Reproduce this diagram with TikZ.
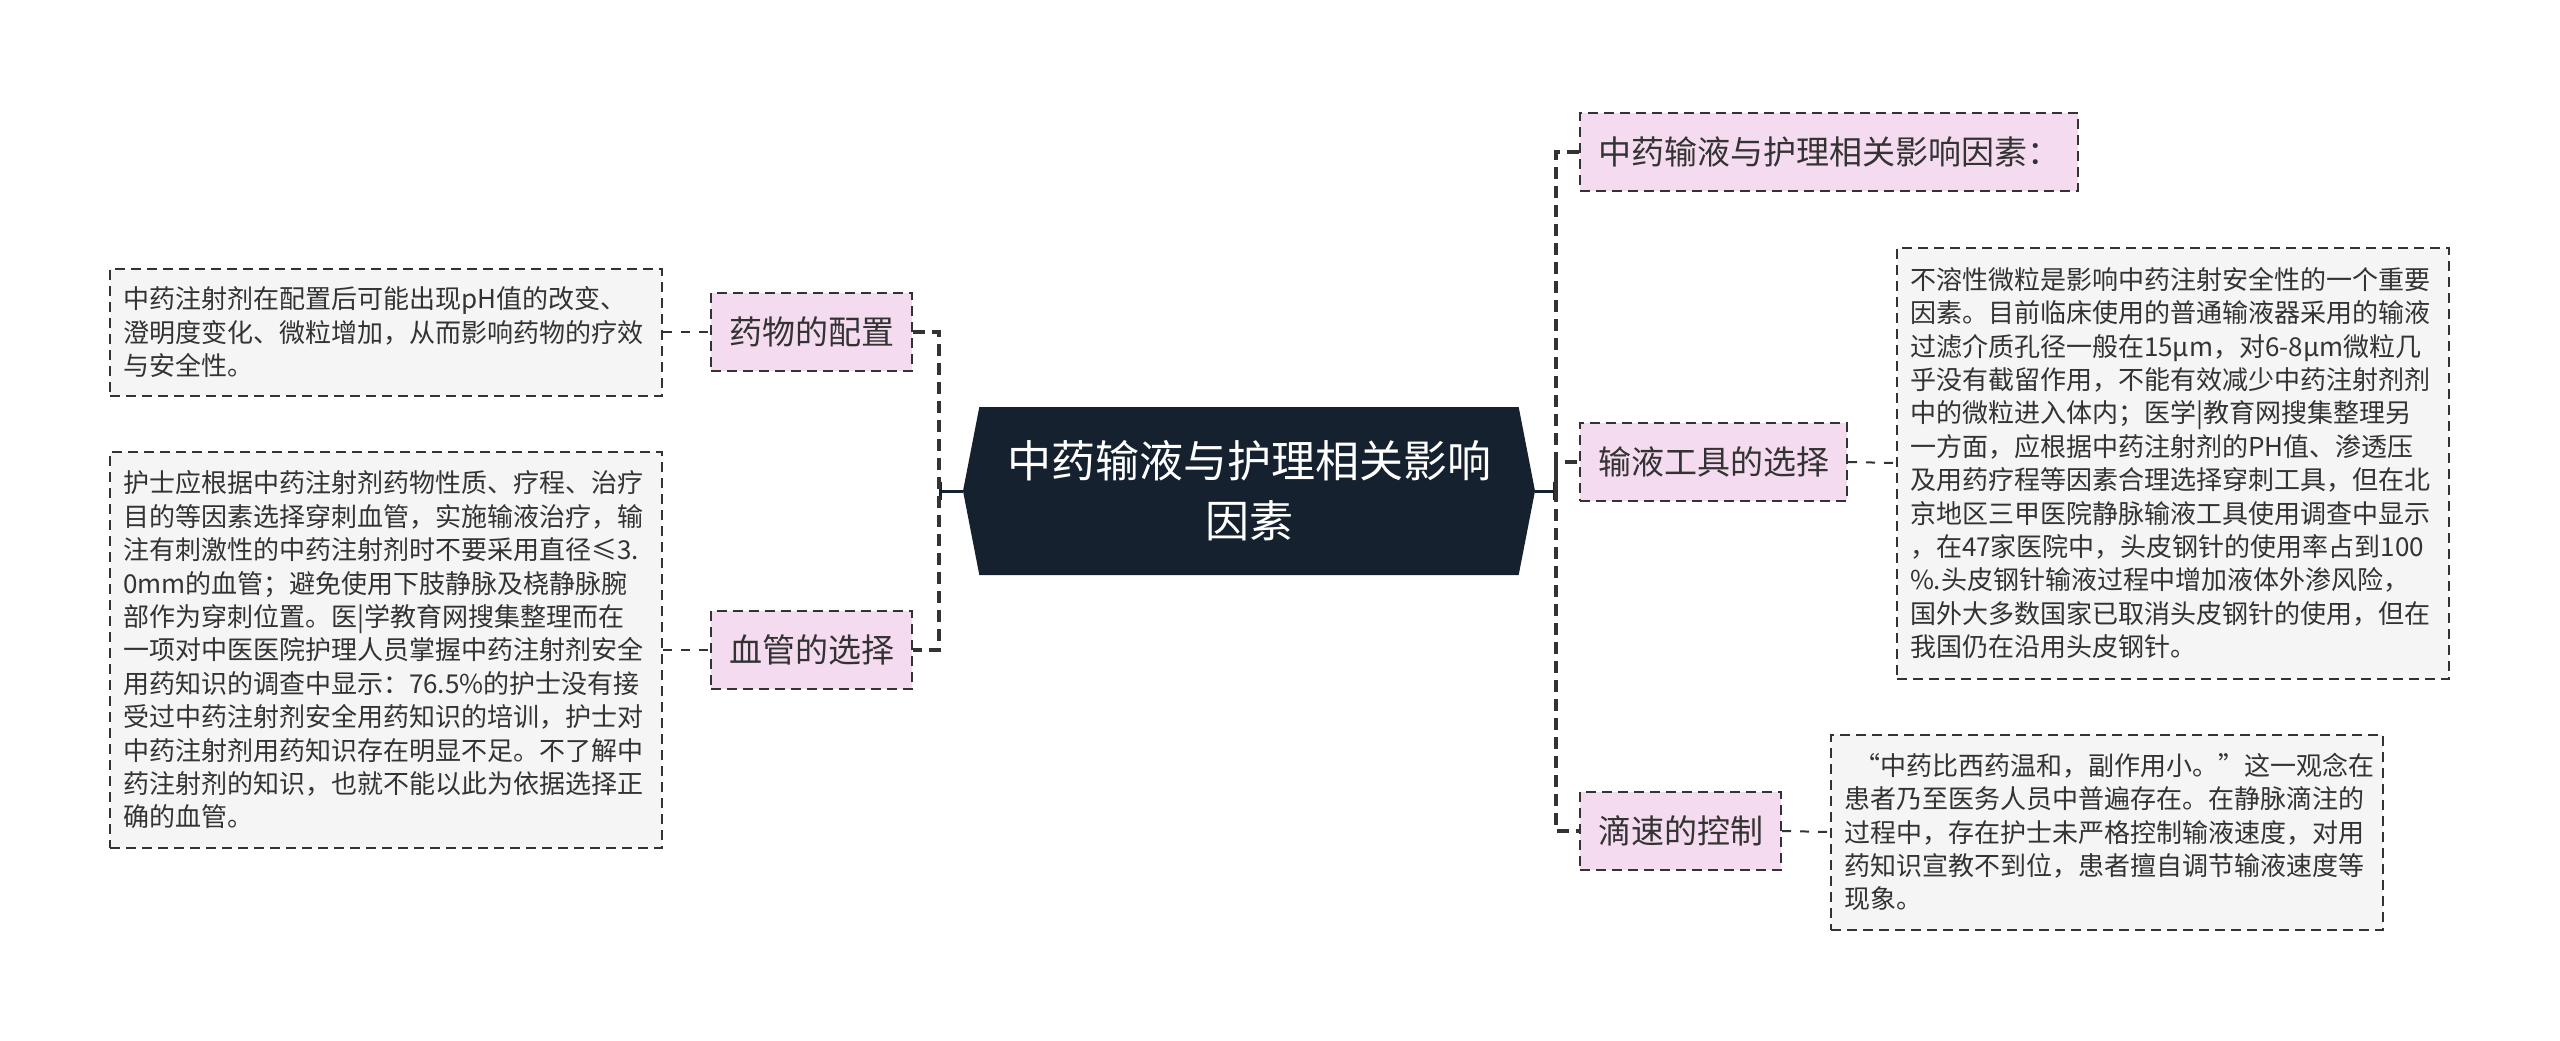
\documentclass[tikz,border=0pt]{standalone}
\usepackage{fontspec}
\setmainfont{Noto Sans CJK SC}
\usepackage{tikz}
\usetikzlibrary{shapes.symbols}
\usetikzlibrary{arrows.meta}

\definecolor{navy}{HTML}{15212F}
\definecolor{pinkfill}{HTML}{F5DBEF}
\definecolor{leaffill}{HTML}{F5F5F5}
\definecolor{edgegray}{HTML}{333333}

\begin{document}
\begin{tikzpicture}[
    x=1pt, y=-1pt,
    root/.style={signal, signal to=east and west, signal pointer angle=158, fill=navy, text=white, minimum width=572pt, minimum height=168pt, align=center, font=\fontsize{44}{60}\selectfont},
    topic/.style={draw=edgegray, line width=2pt, dash pattern=on 10pt off 6pt, fill=pinkfill, minimum height=78pt, inner xsep=18pt, text=edgegray, font=\fontsize{33}{40}\selectfont},
    leaf/.style={draw=edgegray, line width=2pt, dash pattern=on 10pt off 6pt, fill=leaffill, align=left, inner xsep=13pt, text width=526pt, text=edgegray, font=\fontsize{26}{33.4}\selectfont},
    trunk/.style={edgegray, line width=3.5pt, dash pattern=on 12pt off 7pt},
    twig/.style={edgegray, line width=2pt, dash pattern=on 9pt off 9pt},
    stem/.style={navy, line width=3pt, -{Bar[width=18pt, line width=3pt]}}
]
\useasboundingbox (0,0) rectangle (2560,1041);

% --- ROOT ---
\node[root] (root) at (1249, 491) {中药输液与护理相关影响\\因素};

\coordinate (ljoin) at (939, 491);
\coordinate (rjoin) at (1556, 491);

% --- LEFT BRANCHES ---
\node[topic, anchor=east] (peizhi) at (913, 332) {药物的配置};
\node[topic, anchor=east] (xueguan) at (913, 650) {血管的选择};

\node[leaf, anchor=east, minimum height=127pt] (peizhitxt) at (663, 332)
{中药注射剂在配置后可能出现pH值的改变、\\
澄明度变化、微粒增加，从而影响药物的疗效\\
与安全性。};

\node[leaf, anchor=east, minimum height=396pt] (xueguantxt) at (663, 650)
{护士应根据中药注射剂药物性质、疗程、治疗\\
目的等因素选择穿刺血管，实施输液治疗，输\\
注有刺激性的中药注射剂时不要采用直径≤3.\\
0mm的血管；避免使用下肢静脉及桡静脉腕\\
部作为穿刺位置。医|学教育网搜集整理而在\\
一项对中医医院护理人员掌握中药注射剂安全\\
用药知识的调查中显示：76.5\%的护士没有接\\
受过中药注射剂安全用药知识的培训，护士对\\
中药注射剂用药知识存在明显不足。不了解中\\
药注射剂的知识，也就不能以此为依据选择正\\
确的血管。};

% --- RIGHT BRANCHES ---
\node[topic, anchor=west] (biaoti) at (1579, 152) {中药输液与护理相关影响因素：};
\node[topic, anchor=west] (gongju) at (1579, 462) {输液工具的选择};
\node[topic, anchor=west] (disu) at (1579, 831) {滴速的控制};

\node[leaf, anchor=west, minimum height=431pt] (gongjutxt) at (1896, 463)
{不溶性微粒是影响中药注射安全性的一个重要\\
因素。目前临床使用的普通输液器采用的输液\\
过滤介质孔径一般在15μm，对6-8μm微粒几\\
乎没有截留作用，不能有效减少中药注射剂剂\\
中的微粒进入体内；医学|教育网搜集整理另\\
一方面，应根据中药注射剂的PH值、渗透压\\
及用药疗程等因素合理选择穿刺工具，但在北\\
京地区三甲医院静脉输液工具使用调查中显示\\
，在47家医院中，头皮钢针的使用率占到100\\
\%.头皮钢针输液过程中增加液体外渗风险，\\
国外大多数国家已取消头皮钢针的使用，但在\\
我国仍在沿用头皮钢针。};

\node[leaf, anchor=west, minimum height=195pt] (disutxt) at (1830, 832)
{\hspace{10pt}“中药比西药温和，副作用小。”这一观念在\\
患者乃至医务人员中普遍存在。在静脉滴注的\\
过程中，存在护士未严格控制输液速度，对用\\
药知识宣教不到位，患者擅自调节输液速度等\\
现象。};

% --- CONNECTIONS ---
\draw[stem] (root.west) -- (ljoin);
\draw[stem] (root.east) -- (rjoin);

\draw[trunk] (peizhi.east) -| (ljoin) |- (xueguan.east);
\draw[trunk] (biaoti.west) -| (rjoin) |- (disu.west);
\draw[trunk] (rjoin) |- (gongju.west);

\draw[twig] (peizhitxt.east) -- (peizhi.west);
\draw[twig] (xueguantxt.east) -- (xueguan.west);
\draw[twig] (gongju.east) -- (gongjutxt.west);
\draw[twig] (disu.east) -- (disutxt.west);

\end{tikzpicture}
\end{document}
